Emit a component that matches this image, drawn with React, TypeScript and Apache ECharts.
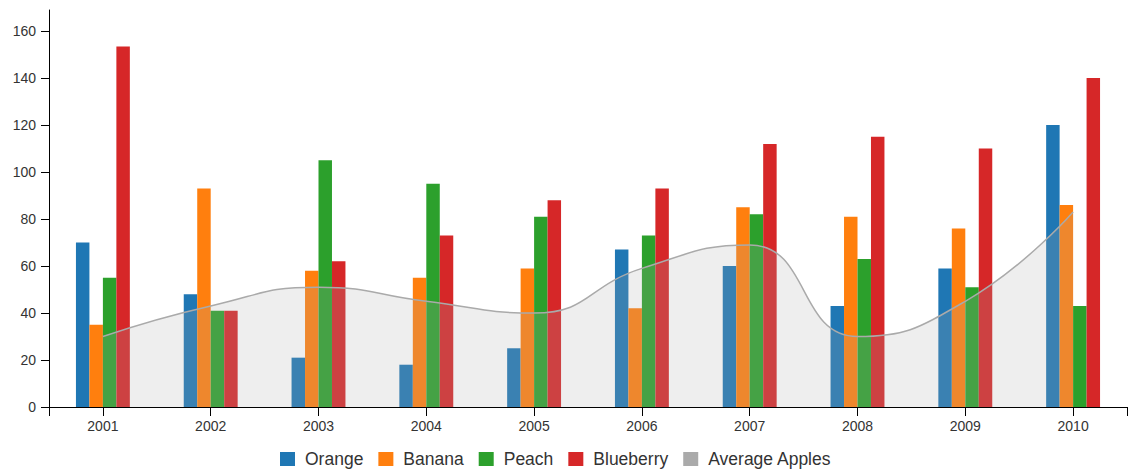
import React, { useEffect, useRef } from "react";
import * as echarts from "echarts";

const years = ["2001", "2002", "2003", "2004", "2005", "2006", "2007", "2008", "2009", "2010"];
const orange = [70, 48, 21, 18, 25, 67, 60, 43, 59, 120];
const banana = [35, 93, 58, 55, 59, 42, 85, 81, 76, 86];
const peach = [55, 41, 105, 95, 81, 73, 82, 63, 51, 43];
const blueberry = [153.5, 41, 62, 73, 88, 93, 112, 115, 110, 140];
const averageApples = [30, 43, 51, 45, 40, 59, 69, 30, 45, 83];

const yMax = 169;
const yInterval = 20;

const FONT = "'Liberation Sans', Arial, sans-serif";

export default function App() {
  const ref = useRef<HTMLDivElement>(null);
  useEffect(() => {
    if (!ref.current) return;
    const chart = echarts.init(ref.current, undefined, { renderer: "svg" });
    const barSeries = (name: string, data: number[], color: string) => ({
      name,
      type: "bar",
      data,
      barGap: "0%",
      barCategoryGap: "50%",
      itemStyle: { color },
      xAxisIndex: 0,
      yAxisIndex: 0,
    });
    chart.setOption({
      animation: false,
      textStyle: { fontFamily: FONT },
      grid: { left: 49, right: 13, top: 10, bottom: 69, containLabel: false },
      legend: {
        left: 275,
        top: 445,
        padding: 5,
        itemWidth: 15,
        itemHeight: 14,
        itemGap: 15,
        icon: "rect",
        textStyle: { fontSize: 17.5, color: "#333", fontFamily: FONT, padding: [0, 0, 0, 5] },
        data: ["Orange", "Banana", "Peach", "Blueberry", "Average Apples"],
      },
      xAxis: [
        {
          type: "category",
          data: years,
          boundaryGap: true,
          axisLine: { show: true, lineStyle: { color: "#000", width: 1 } },
          axisTick: { show: true, alignWithLabel: true, length: 9, lineStyle: { color: "#000" } },
          axisLabel: { color: "#333", fontSize: 14, margin: 12, fontFamily: FONT },
          splitLine: { show: false },
        },
        {
          type: "value",
          min: 0,
          max: 1,
          interval: 1,
          position: "bottom",
          axisLine: { show: false },
          axisTick: { show: true, length: 9, lineStyle: { color: "#000" } },
          axisLabel: { show: false },
          splitLine: { show: false },
        },
      ],
      yAxis: {
        type: "value",
        min: 0,
        max: yMax,
        interval: yInterval,
        axisLine: { show: true, lineStyle: { color: "#000", width: 1 } },
        axisTick: { show: true, length: 8, lineStyle: { color: "#000" } },
        axisLabel: { color: "#333", fontSize: 14, margin: 13, showMaxLabel: false, fontFamily: FONT },
        splitLine: { show: false },
      },
      series: [
        barSeries("Orange", orange, "#1f77b4"),
        barSeries("Banana", banana, "#ff7f0e"),
        barSeries("Peach", peach, "#2ca02c"),
        barSeries("Blueberry", blueberry, "#d62728"),
        {
          name: "Average Apples",
          type: "line",
          data: averageApples,
          smooth: 0.5,
          symbol: "none",
          showSymbol: false,
          itemStyle: { color: "#aaaaaa" },
          lineStyle: { color: "#aaaaaa", width: 1.5 },
          areaStyle: { color: "#a8a8a8", opacity: 0.2 },
          z: 3,
        },
      ],
    });
    return () => chart.dispose();
  }, []);
  return (
    <div
      ref={ref}
      style={{ position: "absolute", left: 0, top: 0, width: 1140, height: 476 }}
    />
  );
}
